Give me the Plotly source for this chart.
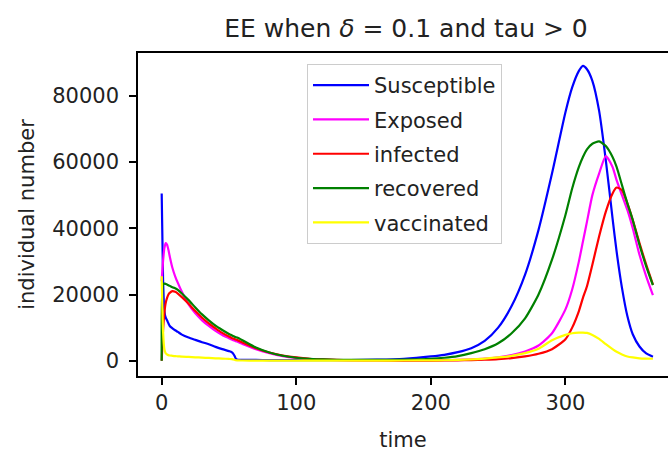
import plotly.graph_objects as go

# time points (days)
T = [0, 1, 2, 3, 4, 5, 6, 8, 10, 12, 15, 20, 25, 30, 35, 40, 45, 50, 52, 54, 55, 56,
     60, 70, 80, 90, 100, 110, 120, 140, 160, 180, 200, 210, 220, 230, 240, 250, 260,
     270, 280, 290, 300, 305, 310, 313, 316, 320, 325, 330, 335, 338, 342, 346, 350,
     355, 360, 365]

susceptible = [50500, 25000, 15000, 13000, 12200, 11300, 10500, 9800, 9200, 8700, 7900,
               7000, 6300, 5600, 5000, 4200, 3500, 2900, 2600, 1600, 700, 400,
               300, 250, 200, 180, 170, 170, 180, 220, 330, 600, 1300, 1800, 2600, 3800,
               6000, 10000, 16500, 26000, 39500, 56500, 75000, 82500, 87500, 89000, 88000,
               84500, 75500, 60500, 43000, 33000, 22000, 13500, 8000, 4300, 2200, 1200]

exposed = [24000, 30000, 34000, 35500, 35000, 33500, 31500, 28000, 25500, 23500, 20800,
           17000, 14300, 12200, 10500, 9000, 7800, 6800, 6400, 6100, 5900, 5800,
           5100, 3500, 2300, 1400, 850, 500, 300, 130, 80, 80, 120, 180, 270, 420,
           650, 1050, 1700, 2800, 4600, 8300, 15500, 21500, 30000, 36000, 42000,
           50000, 56500, 61800, 58500, 54500, 50000, 45500, 40000, 32000, 25500, 19800]

infected = [0, 9000, 14500, 17500, 19000, 20000, 20500, 21000, 20800, 20300, 19200,
            17200, 15000, 13000, 11300, 9800, 8400, 7300, 6900, 6600, 6400, 6300,
            5500, 3800, 2500, 1600, 1000, 600, 400, 150, 80, 60, 60, 80, 120, 180,
            300, 480, 800, 1300, 2100, 3500, 6500, 10000, 15000, 19000, 22500,
            29000, 37500, 45000, 50500, 52300, 51500, 47500, 42500, 35500, 29000, 23000]

recovered = [0, 23000, 23300, 23200, 23000, 22800, 22600, 22200, 21900, 21400, 20300,
             18300, 16100, 14000, 12200, 10600, 9300, 8100, 7700, 7300, 7100, 7000,
             6200, 4000, 2500, 1500, 900, 600, 400, 250, 250, 350, 600, 900, 1400, 2300,
             3500, 5300, 8300, 12800, 20000, 30500, 44000, 52000, 58500, 61500, 63800,
             65500, 66200, 64800, 61500, 58500, 53000, 47500, 42500, 35000, 28500, 22800]

vaccinated = [25500, 9000, 3500, 2200, 1900, 1700, 1600, 1500, 1400, 1350, 1250,
              1150, 1050, 950, 850, 750, 650, 550, 500, 300, 150, 100,
              80, 60, 50, 50, 50, 50, 50, 50, 60, 80, 100, 150, 250, 400,
              650, 1000, 1500, 2300, 3600, 6200, 7800, 8300, 8500, 8500, 8400,
              7800, 6600, 5000, 3500, 2700, 1900, 1300, 1000, 750, 650, 600]

names = ["Susceptible", "Exposed", "infected", "recovered", "vaccinated"]
series = [susceptible, exposed, infected, recovered, vaccinated]
colors = ["#0000ff", "#ff00ff", "#ff0000", "#008000", "#ffff00"]

FONT = "DejaVu Sans"
TXT = "#222222"

fig = go.Figure()
for nm, ys, c in zip(names, series, colors):
    fig.add_trace(go.Scatter(x=T, y=ys, mode="lines", name=nm, legendgroup=nm,
                             line=dict(color=c, width=2.2, shape="spline", smoothing=0.6)))

fig.update_layout(
    width=668, height=454,
    margin=dict(l=138, r=0, t=53, b=78),
    paper_bgcolor="white", plot_bgcolor="white",
    font=dict(family=FONT, size=21, color=TXT),
    title=dict(text="EE when <i>δ</i> = 0.1 and tau > 0", x=406 / 668, xanchor="center",
               xref="container", y=1 - 28 / 454, yref="container", yanchor="middle",
               font=dict(family=FONT, size=25, color=TXT)),
    showlegend=True,
    legend=dict(x=(307 - 138) / 530, y=(376 - 64) / 323, xanchor="left", yanchor="top",
                bgcolor="rgba(255,255,255,0.8)", bordercolor="#cccccc", borderwidth=1,
                font=dict(family=FONT, size=21, color=TXT),
                traceorder="grouped", tracegroupgap=4, itemwidth=56),
)
fig.update_xaxes(range=[-17.6, 376.2], tickvals=[0, 100, 200, 300],
                 showline=True, linecolor="black", linewidth=1.5, mirror=True,
                 ticks="outside", ticklen=7, tickwidth=1.5, tickcolor="black",
                 showgrid=False, zeroline=False,
                 title=dict(text="time", standoff=18, font=dict(size=21)))
fig.update_yaxes(range=[-4600, 92900], tickvals=[0, 20000, 40000, 60000, 80000],
                 tickformat="d",
                 showline=True, linecolor="black", linewidth=1.5, mirror=False,
                 ticks="outside", ticklen=7, tickwidth=1.5, tickcolor="black",
                 ticklabelstandoff=6,
                 showgrid=False, zeroline=False,
                 title=dict(text="individual number", standoff=12, font=dict(size=21)))

fig.write_html("out.html")
